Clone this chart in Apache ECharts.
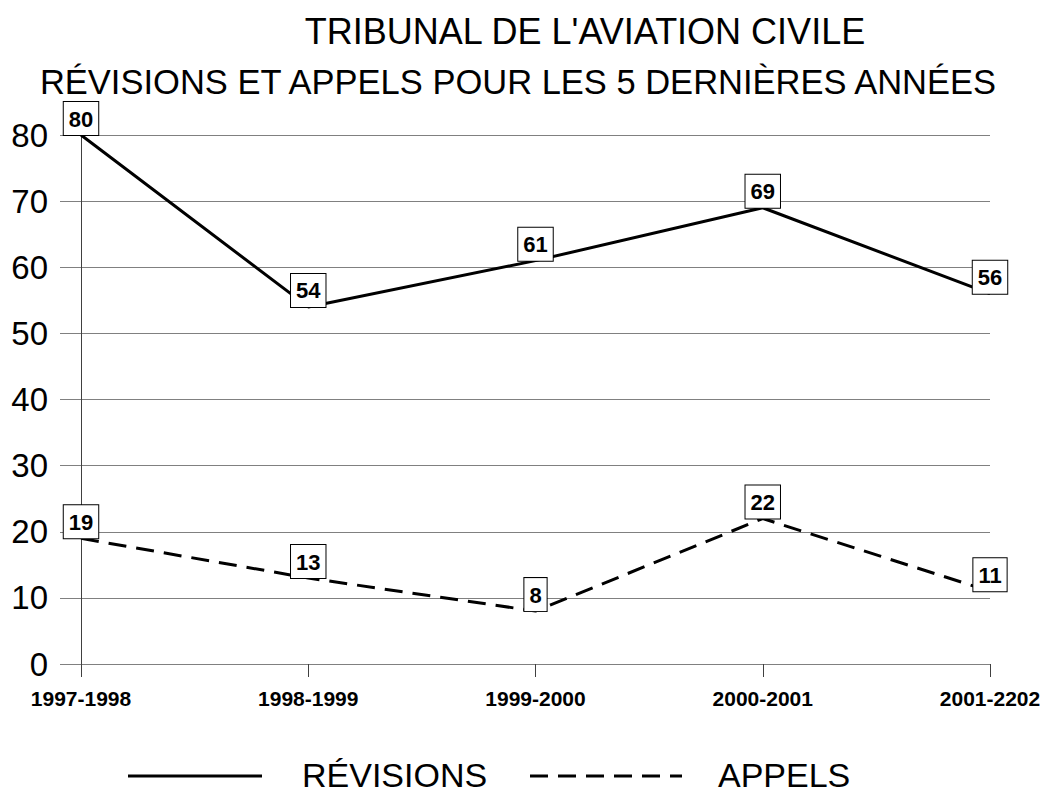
<!DOCTYPE html>
<html>
<head>
<meta charset="utf-8">
<script src="https://cdn.jsdelivr.net/npm/echarts@6/dist/echarts.min.js"></script>
<style>
  html, body { margin: 0; padding: 0; background: #fff; }
  #main { width: 1045px; height: 796px; }
</style>
</head>
<body>
<div id="main"></div>
<script>
const titleLine1 = "TRIBUNAL DE L'AVIATION CIVILE";
const titleLine2 = "RÉVISIONS ET APPELS POUR LES 5 DERNIÈRES ANNÉES";
const periods = ['1997-1998', '1998-1999', '1999-2000', '2000-2001', '2001-2202'];
const revisions = [80, 54, 61, 69, 56];
const appels = [19, 13, 8, 22, 11];
const seriesNames = ['RÉVISIONS', 'APPELS'];

const font = 'Liberation Sans, Arial, sans-serif';
const dash = [18, 10];

// boxed value labels, drawn from an invisible scatter on the same axes
function labelSeries(values) {
  return {
    type: 'scatter',
    data: values,
    symbolSize: 0,
    silent: true,
    z: 5,
    itemStyle: {opacity: 1, color: '#000'},
    label: {
      show: true,
      position: 'top',
      distance: 0,
      color: '#000',
      opacity: 1,
      fontFamily: font,
      fontSize: 22,
      fontWeight: 'bold',
      lineHeight: 22,
      backgroundColor: '#fff',
      borderColor: '#000',
      borderWidth: 1,
      padding: [6, 5, 5, 5]
    }
  };
}

function text(str, x, y, size, align) {
  return {
    type: 'text', x: x, y: y,
    style: {text: str, textAlign: align, textVerticalAlign: 'middle', font: size + 'px ' + font, fill: '#000'}
  };
}

// legend drawn by hand: the built-in one puts a symbol on the line icon
function legendLine(x1, x2, y, type) {
  return {
    type: 'line',
    shape: {x1: x1, y1: y, x2: x2, y2: y},
    style: {stroke: '#000', lineWidth: 3, lineDash: type}
  };
}

const chart = echarts.init(document.getElementById('main'), null, {renderer: 'svg'});

chart.setOption({
  animation: false,
  backgroundColor: '#fff',
  graphic: [
    text(titleLine1, 585, 31, 36, 'center'),
    text(titleLine2, 518, 82, 34.5, 'center'),
    legendLine(128, 262, 776, null),
    text(seriesNames[0], 302, 775, 34, 'left'),
    legendLine(530, 682, 776, dash),
    text(seriesNames[1], 718, 775, 34, 'left')
  ],
  grid: {left: 81, right: 55, top: 135, bottom: 132, containLabel: false},
  xAxis: {
    type: 'category',
    data: periods,
    boundaryGap: false,
    axisLine: {lineStyle: {color: '#808080', width: 1}},
    axisTick: {show: true, length: 13, lineStyle: {color: '#404040'}},
    axisLabel: {margin: 24, color: '#000', fontFamily: font, fontSize: 21, fontWeight: 'bold'},
    splitLine: {show: false}
  },
  yAxis: {
    type: 'value',
    min: 0,
    max: 80,
    interval: 10,
    axisLine: {show: true, lineStyle: {color: '#404040', width: 1}},
    axisTick: {show: true, length: 21, lineStyle: {color: '#808080'}},
    axisLabel: {margin: 33, color: '#000', fontFamily: font, fontSize: 33},
    splitLine: {show: true, lineStyle: {color: '#808080', width: 1}}
  },
  series: [
    {
      name: seriesNames[0],
      type: 'line',
      data: revisions,
      symbol: 'none',
      lineStyle: {color: '#000', width: 3},
      z: 3
    },
    {
      name: seriesNames[1],
      type: 'line',
      data: appels,
      symbol: 'none',
      lineStyle: {color: '#000', width: 3, type: dash},
      z: 3
    },
    labelSeries(revisions),
    labelSeries(appels)
  ]
});
</script>
</body>
</html>
